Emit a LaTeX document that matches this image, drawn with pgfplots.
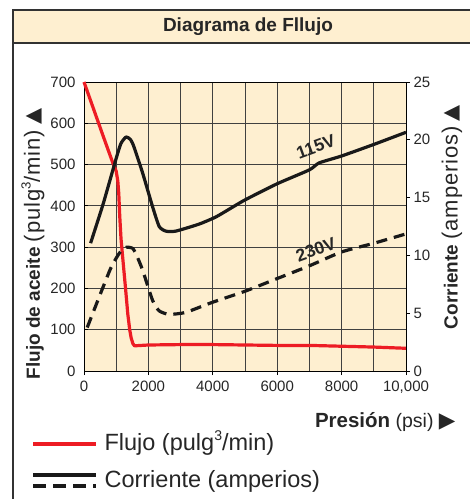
\documentclass[border=0pt]{standalone}
\usepackage{pgfplots}
\pgfplotsset{compat=1.18}
\usepackage{fontspec}
\setmainfont{Liberation Sans}
\newfontfamily\symfont{DejaVu Sans}
\definecolor{bg}{RGB}{254,239,208}
\definecolor{fred}{RGB}{237,28,36}
\definecolor{framec}{RGB}{50,50,50}
\newcommand\cube{\raisebox{0.42em}{\scalebox{0.6}{3}}}
\newcommand\reg[1]{{\fontsize{22}{26}\selectfont\addfontfeature{LetterSpace=4}#1}}
\begin{document}
\begin{tikzpicture}
\useasboundingbox (0pt,0pt) rectangle (470pt,-499pt);
\fill[bg] (13pt,-10pt) rectangle (480pt,-43pt);
\draw[framec, line width=1.4pt] (13pt,-520pt) -- (13pt,-10pt) -- (480pt,-10pt);
\draw[framec, line width=1.4pt] (13pt,-43pt) -- (480pt,-43pt);
\node[font=\fontsize{19}{22}\selectfont\bfseries, text=black!85] at (248pt,-27pt) {Diagrama de Fllujo};

\begin{axis}[
  at={(84pt,-371pt)}, anchor=south west,
  scale only axis, width=322pt, height=289pt,
  xmin=0, xmax=10000, ymin=0, ymax=700,
  axis background/.style={fill=bg},
  xtick={0,2000,4000,6000,8000,10000},
  xticklabels={0,2000,4000,6000,8000,{10,000}},
  minor xtick={1000,3000,5000,7000,9000},
  ytick={0,100,...,700},
  grid=both,
  major grid style={black!75, line width=0.8pt},
  minor grid style={black!75, line width=0.8pt},
  axis line style={black, line width=1pt},
  xtick pos=bottom, ytick pos=left,
  xtick align=outside, ytick align=inside,
  major tick length=4pt, minor tick length=0pt,
  tick style={black, line width=0.8pt},
  /pgf/number format/assume math mode=true,
  tick label style={font=\fontsize{15}{18}\selectfont, text=black!85},
  yticklabel style={xshift=-5pt},
  xticklabel style={yshift=-2pt},
  scaled x ticks=false,
  clip=false,
]
\addplot[fred, line width=3.2pt, line join=round] coordinates {
(0,700) (300,634) (600,568) (900,503) (1000,484) (1050,460) (1080,430)
(1110,375) (1150,320) (1210,268) (1290,200) (1360,138) (1420,100) (1465,80)
(1520,66) (1570,61) (2000,63) (3000,64) (4000,64) (5000,63) (6000,62)
(7000,62) (8000,60) (9000,58) (10000,55)
};
\end{axis}

\begin{axis}[
  at={(84pt,-371pt)}, anchor=south west,
  scale only axis, width=322pt, height=289pt,
  xmin=0, xmax=10000, ymin=0, ymax=25,
  axis x line=none, axis y line*=right,
  ytick={0,5,...,25},
  tick align=outside, major tick length=4pt,
  axis line style={black, line width=1pt},
  tick style={black, line width=0.8pt},
  /pgf/number format/assume math mode=true,
  tick label style={font=\fontsize{15}{18}\selectfont, text=black!85},
  clip=false,
]
\addplot[black!90, line width=3.2pt, line join=round, smooth, tension=0.35] coordinates {
(205,11.06) (600,14.5) (1000,18.4) (1150,19.7) (1311,20.25) (1450,20.0)
(1550,19.4) (1824,17.1) (2131,14.2) (2336,12.5) (2541,12.1) (2848,12.1)
(3566,12.7) (4078,13.3) (4480,13.95) (5000,14.8) (6000,16.2) (7000,17.4)
(7300,18.0) (8000,18.6) (9000,19.6) (10000,20.65)
};
\addplot[black!90, line width=3.2pt, dash pattern=on 11pt off 7pt, smooth, tension=0.35] coordinates {
(100,3.76) (800,8.7) (1100,10.2) (1311,10.7) (1516,10.6) (1650,9.9)
(1824,8.7) (2131,6.1) (2336,5.2) (2643,4.9) (3156,5.07) (3975,5.93)
(5000,6.9) (6000,8.0) (7000,9.1) (8000,10.3) (9000,11.05) (10000,11.86)
};
\node[rotate=20, font=\fontsize{17.5}{20}\selectfont\bfseries, text=black!85] at (axis cs:7200,19.4) {115V};
\node[rotate=20, font=\fontsize{17.5}{20}\selectfont\bfseries, text=black!85] at (axis cs:7200,10.5) {230V};
\end{axis}

\node[rotate=90, font=\fontsize{19}{22}\selectfont, text=black!85] at (33pt,-244pt)
  {\textbf{Flujo de aceite} \reg{(pulg\cube/min)} {\symfont\scalebox{1.1}{▲}}};
\node[rotate=90, font=\fontsize{19}{22}\selectfont, text=black!85] at (452pt,-217pt)
  {\textbf{Corriente} \reg{(amperios)} {\symfont\scalebox{1.1}{▲}}};
\node[anchor=east, font=\fontsize{19.5}{22}\selectfont, text=black!85] at (459pt,-422pt)
  {{\fontsize{20.5}{22}\selectfont\bfseries Presión} (psi) {\symfont\scalebox{1.1}{▶}}};

\draw[fred, line width=3.5pt] (33pt,-444pt) -- (96pt,-444pt);
\node[anchor=west, font=\fontsize{23.5}{26}\selectfont, text=black!85] at (101pt,-443pt) {Flujo (pulg\cube/min)};
\draw[black!90, line width=3.5pt] (33pt,-475pt) -- (96pt,-475pt);
\draw[black!90, line width=3.5pt, dash pattern=on 13pt off 7pt] (33pt,-486pt) -- (96pt,-486pt);
\node[anchor=west, font=\fontsize{23.5}{26}\selectfont, text=black!85] at (101pt,-481pt) {Corriente (amperios)};
\end{tikzpicture}
\end{document}
